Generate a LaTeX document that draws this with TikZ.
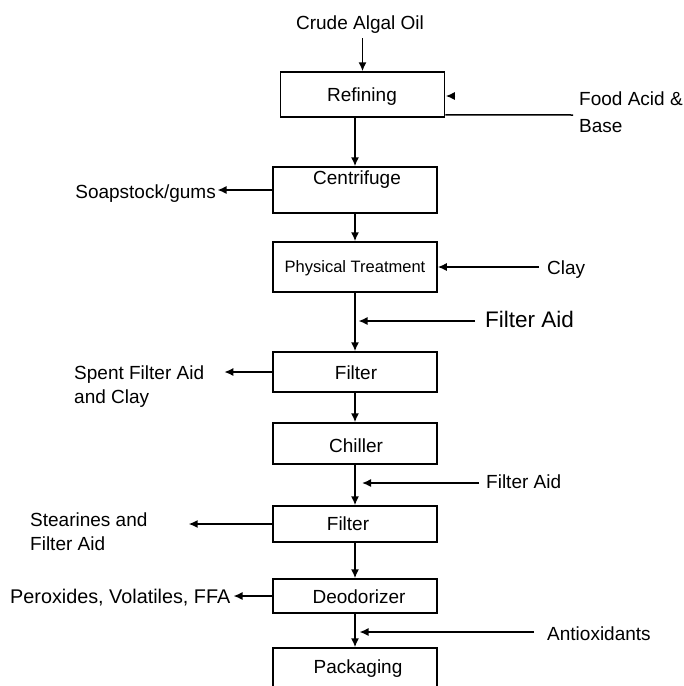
\documentclass[tikz,border=0pt]{standalone}
\usepackage{fontspec}
\setmainfont{Liberation Sans}
\usetikzlibrary{arrows.meta,calc}
\begin{document}
\begin{tikzpicture}[x=1pt,y=-1pt,
  box/.style={draw, line width=1.5pt, minimum width=164pt, inner sep=0pt},
  lbl/.style={inner sep=0pt, font=\fontsize{19}{23}\selectfont},
  lblsmall/.style={inner sep=0pt, font=\fontsize{16.5}{20}\selectfont},
  lblbig/.style={inner sep=0pt, font=\fontsize{22.5}{27}\selectfont},
  arr/.style={line width=1.5pt, -{Latex[length=9pt,width=8pt]}},
  ln/.style={line width=1.5pt}]
\useasboundingbox (0,0) rectangle (684,686);

% boxes
\node[box, minimum height=45pt] (refining) at (362.5,94.5) {};
\node[box, minimum height=46pt] (centrifuge) at (355,190) {};
\node[box, minimum height=50pt] (physical) at (355,267) {};
\node[box, minimum height=40pt] (filter1) at (355,372) {};
\node[box, minimum height=41pt] (chiller) at (355,443.5) {};
\node[box, minimum height=36pt] (filter2) at (355,524) {};
\node[box, minimum height=34pt] (deodorizer) at (355,596) {};
\node[box, minimum height=50pt] (packaging) at (355,673) {};

% box texts
\node[lbl, anchor=base] (trefining) at (362,101) {Refining};
\node[lbl, anchor=base] (tcentrifuge) at (357,184) {Centrifuge};
\node[lblsmall, anchor=base] (tphysical) at (355,272) {Physical Treatment};
\node[lbl, anchor=base] (tfilter1) at (356,379) {Filter};
\node[lbl, anchor=base] (tchiller) at (356,452) {Chiller};
\node[lbl, anchor=base] (tfilter2) at (348,530) {Filter};
\node[lbl, anchor=base] (tdeodorizer) at (359,603) {Deodorizer};
\node[lbl, anchor=base] (tpackaging) at (358,673) {Packaging};

% side texts
\node[lbl, anchor=base] (crude) at (360,29) {Crude Algal Oil};
\node[lbl, anchor=base west] (food1) at (579,105) {Food Acid \&};
\node[lbl, anchor=base west] (food2) at (579,132) {Base};
\node[lbl, anchor=base east] (soap) at (216,198) {Soapstock/gums};
\node[lbl, anchor=base west] (clay) at (547,274) {Clay};
\node[lblbig, anchor=base west] (fa1) at (485,327) {Filter Aid};
\node[lbl, anchor=base west] (spent1) at (74,379) {Spent Filter Aid};
\node[lbl, anchor=base west] (spent2) at (74,403) {and Clay};
\node[lbl, anchor=base west] (fa2) at (486,488) {Filter Aid};
\node[lbl, anchor=base west] (stear1) at (30,526) {Stearines and};
\node[lbl, anchor=base west] (stear2) at (30,550) {Filter Aid};
\node[lbl, anchor=base west, font=\fontsize{19.8}{23}\selectfont] (perox) at (10,603) {Peroxides, Volatiles, FFA};
\node[lbl, anchor=base west] (antiox) at (547,640) {Antioxidants};

% junction points on the main line
\coordinate (j1) at (355,321);
\coordinate (j2) at (355,483);
\coordinate (j3) at (355,632);
\coordinate (foodend) at (573,115);

% main flow
\draw[arr] ($(crude.south -| refining.north)+(0,5)$) -- (refining.north);
\draw[arr] (refining.south -| centrifuge.north) -- (centrifuge.north);
\draw[arr] (centrifuge.south) -- (physical.north);
\draw[arr] (physical.south) -- (filter1.north);
\draw[arr] (filter1.south) -- (chiller.north);
\draw[arr] (chiller.south) -- (filter2.north);
\draw[arr] (filter2.south) -- (deodorizer.north);
\draw[arr] (deodorizer.south) -- (packaging.north);

% inputs
\draw[ln] (foodend) -- ($(refining.south east)+(0,-3)$);
\draw[arr] ($(refining.east)+(10,1.5)$) -- ($(refining.east)+(0.5,1.5)$);
\draw[arr] ($(physical.east -| clay.west)+(-8,0)$) -- (physical.east);
\draw[arr] ($(fa1.west |- j1)+(-10,0)$) -- ($(j1)+(3.5,0)$);
\draw[arr] ($(fa2.west |- j2)+(-7,0)$) -- ($(j2)+(7,0)$);
\draw[arr] ($(antiox.west |- j3)+(-13,0)$) -- ($(j3)+(4.5,0)$);

% outputs
\draw[arr] (centrifuge.west) -- ($(centrifuge.west -| soap.east)+(1.5,0)$);
\draw[arr] (filter1.west) -- ($(filter1.west -| spent1.east)+(20,0)$);
\draw[arr] (filter2.west) -- ($(filter2.west -| stear1.east)+(41,0)$);
\draw[arr] (deodorizer.west) -- ($(deodorizer.west -| perox.east)+(3,0)$);
\end{tikzpicture}
\end{document}
